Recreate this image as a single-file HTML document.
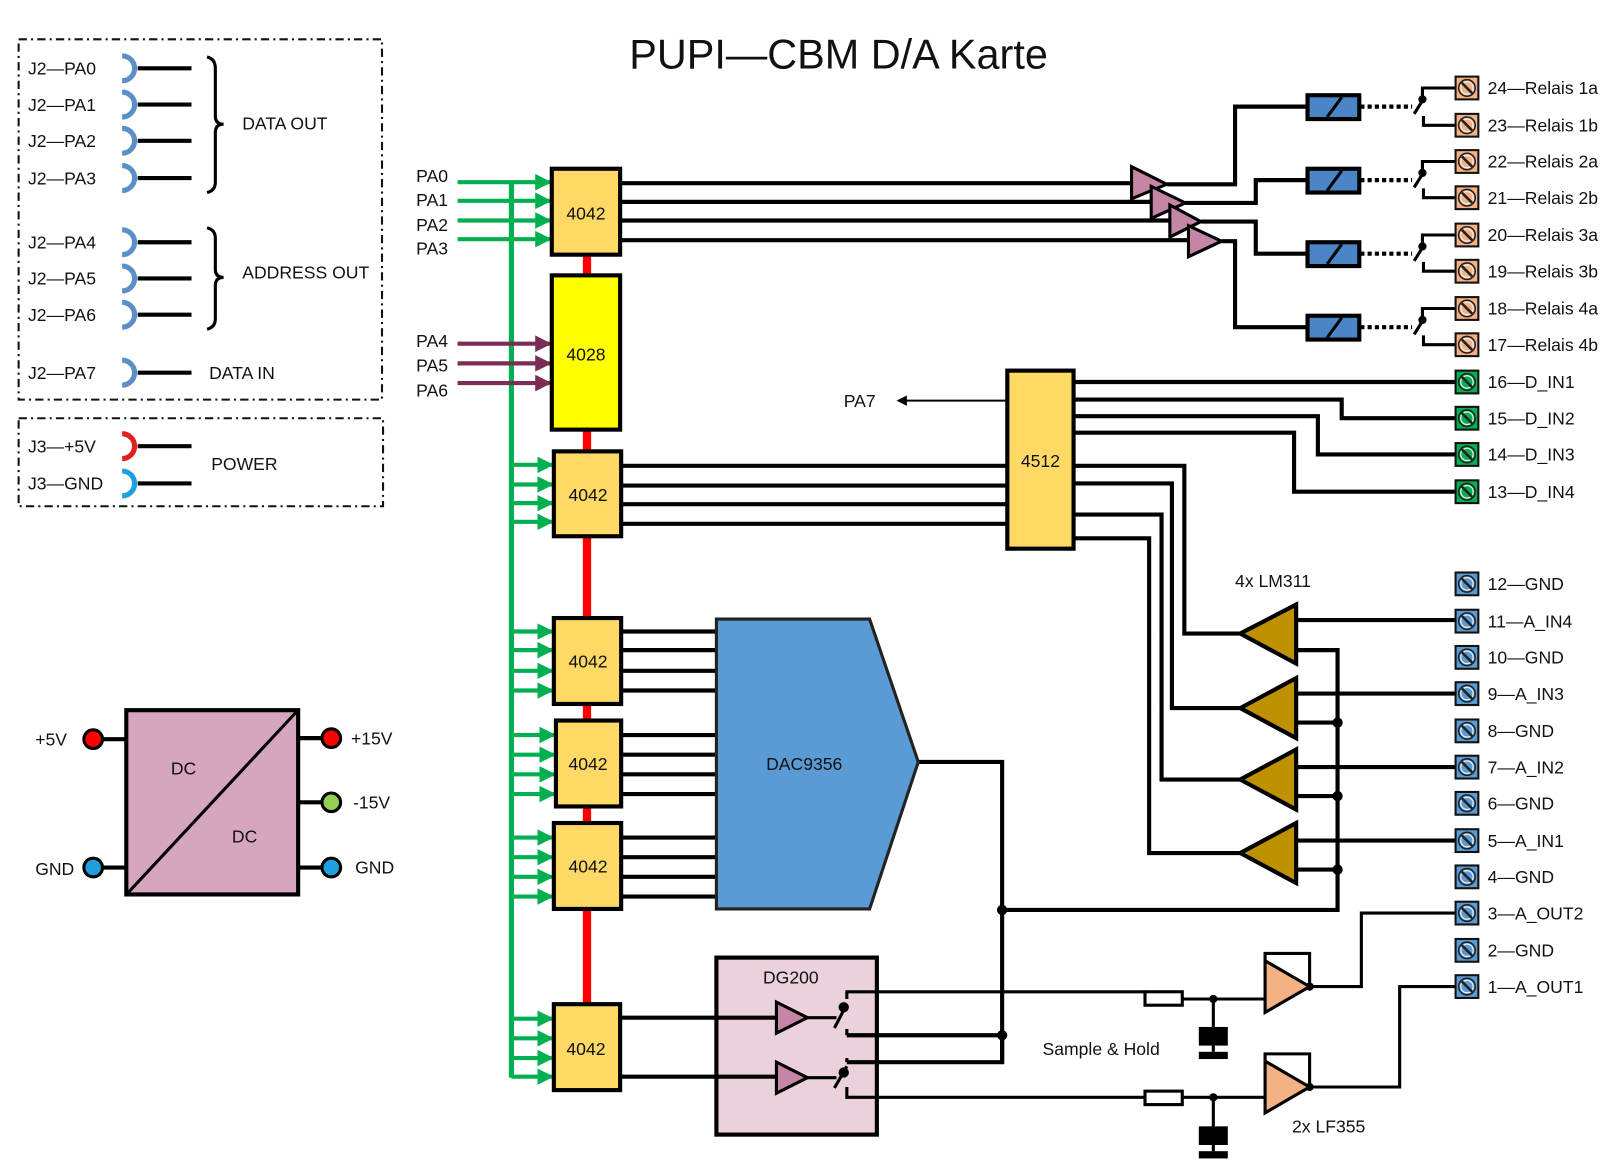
<!DOCTYPE html>
<html><head><meta charset="utf-8"><style>html,body{margin:0;padding:0;background:#fff}svg{display:block}text{font-family:"Liberation Sans",sans-serif;fill:#111}</style></head><body>
<svg width="1615" height="1175" viewBox="0 0 1560 1135" preserveAspectRatio="none" xmlns="http://www.w3.org/2000/svg">
<defs>
<marker id="ag" markerWidth="4" markerHeight="4" refX="3.5" refY="2" orient="auto" markerUnits="strokeWidth"><path d="M0,0L4,2L0,4z" fill="#00b050"/></marker>
<marker id="ap" markerWidth="4" markerHeight="4" refX="3.5" refY="2" orient="auto" markerUnits="strokeWidth"><path d="M0,0L4,2L0,4z" fill="#7b2d55"/></marker>
<marker id="ak" markerWidth="5" markerHeight="5" refX="4" refY="2.5" orient="auto" markerUnits="strokeWidth"><path d="M0,0L5,2.5L0,5z" fill="#000"/></marker>
<g id="term"><rect x="-11" y="-11" width="22" height="22" stroke="#111" stroke-width="2"/><circle r="8" fill="none" stroke="#222" stroke-width="1.5"/><circle r="6" fill="none" stroke="#eee" stroke-width="1.2"/><line x1="-5" y1="-5" x2="5" y2="5" stroke="#222" stroke-width="2.5"/></g>
</defs>
<text x="810" y="66" font-size="40" text-anchor="middle">PUPI—CBM D/A Karte</text>

<!-- left panels -->
<g fill="none" stroke="#111" stroke-width="2" stroke-dasharray="8,4,2,4">
<rect x="18" y="38" width="351" height="348"/><rect x="18" y="404" width="352" height="85"/></g>
<g font-size="17">
<text x="27" y="72">J2—PA0</text><text x="27" y="107">J2—PA1</text><text x="27" y="142">J2—PA2</text><text x="27" y="178">J2—PA3</text>
<text x="27" y="240">J2—PA4</text><text x="27" y="275">J2—PA5</text><text x="27" y="310">J2—PA6</text><text x="27" y="366">J2—PA7</text>
<text x="27" y="437">J3—+5V</text><text x="27" y="473">J3—GND</text>
<text x="234" y="125">DATA OUT</text><text x="234" y="269">ADDRESS OUT</text><text x="202" y="366">DATA IN</text><text x="204" y="454">POWER</text>
</g>
<g fill="none" stroke-width="5">
<g stroke="#5b8fc9"><path d="M118,54A12,12 0 0 1 118,78"/><path d="M118,89A12,12 0 0 1 118,113"/><path d="M118,124A12,12 0 0 1 118,148"/><path d="M118,160A12,12 0 0 1 118,184"/><path d="M118,222A12,12 0 0 1 118,246"/><path d="M118,257A12,12 0 0 1 118,281"/><path d="M118,292A12,12 0 0 1 118,316"/><path d="M118,348A12,12 0 0 1 118,372"/></g>
<path d="M118,419A12,12 0 0 1 118,443" stroke="#e02020"/><path d="M118,455A12,12 0 0 1 118,479" stroke="#1ea0e0"/>
<g stroke="#000" stroke-width="4"><path d="M133,66H185M133,101H185M133,136H185M133,172H185M133,234H185M133,269H185M133,304H185M133,360H185M133,431H185M133,467H185"/></g>
<path d="M200,55Q208,57 208,66V112Q208,120 216,120Q208,120 208,128V176Q208,184 200,186M200,220Q208,222 208,230V260Q208,268 216,268Q208,268 208,276V308Q208,316 200,318" stroke="#000" stroke-width="3"/>
</g>

<!-- DC/DC -->
<rect x="122" y="686" width="166" height="178" fill="#d5a6bd" stroke="#000" stroke-width="4"/>
<line x1="124" y1="862" x2="286" y2="688" stroke="#000" stroke-width="3"/>
<g stroke="#000" stroke-width="4"><path d="M100,714H122M100,838H122M288,713H310M288,775H310M288,838H310"/></g>
<g stroke="#000" stroke-width="3"><circle cx="90" cy="714" r="9" fill="#ff0000"/><circle cx="90" cy="838" r="9" fill="#1ea0e0"/><circle cx="320" cy="713" r="9" fill="#ff0000"/><circle cx="320" cy="775" r="9" fill="#92d050"/><circle cx="320" cy="838" r="9" fill="#1ea0e0"/></g>
<g font-size="17"><text x="165" y="748">DC</text><text x="224" y="814">DC</text><text x="34" y="720">+5V</text><text x="34" y="845">GND</text><text x="339" y="719">+15V</text><text x="341" y="781">-15V</text><text x="343" y="844">GND</text></g>

<!-- red link -->
<line x1="567" y1="246" x2="567" y2="972" stroke="#ff0000" stroke-width="8"/>
<!-- green bus -->
<line x1="494" y1="176" x2="494" y2="1041" stroke="#00b050" stroke-width="5"/>
<g stroke="#00b050" stroke-width="4" marker-end="url(#ag)">
<line x1="442" y1="176" x2="531" y2="176"/><line x1="442" y1="194" x2="531" y2="194"/><line x1="442" y1="213" x2="531" y2="213"/><line x1="442" y1="231" x2="531" y2="231"/>
<line x1="494" y1="449" x2="533" y2="449"/><line x1="494" y1="468" x2="533" y2="468"/><line x1="494" y1="486" x2="533" y2="486"/><line x1="494" y1="504" x2="533" y2="504"/>
<line x1="494" y1="610" x2="533" y2="610"/><line x1="494" y1="628" x2="533" y2="628"/><line x1="494" y1="648" x2="533" y2="648"/><line x1="494" y1="667" x2="533" y2="667"/>
<line x1="494" y1="710" x2="535" y2="710"/><line x1="494" y1="729" x2="535" y2="729"/><line x1="494" y1="748" x2="535" y2="748"/><line x1="494" y1="767" x2="535" y2="767"/>
<line x1="494" y1="809" x2="533" y2="809"/><line x1="494" y1="828" x2="533" y2="828"/><line x1="494" y1="847" x2="533" y2="847"/><line x1="494" y1="866" x2="533" y2="866"/>
<line x1="494" y1="984" x2="533" y2="984"/><line x1="494" y1="1003" x2="533" y2="1003"/><line x1="494" y1="1022" x2="533" y2="1022"/><line x1="494" y1="1040" x2="533" y2="1040"/>
</g>
<g stroke="#7b2d55" stroke-width="4" marker-end="url(#ap)"><line x1="442" y1="332" x2="531" y2="332"/><line x1="442" y1="351" x2="531" y2="351"/><line x1="442" y1="370" x2="531" y2="370"/></g>
<g font-size="17"><text x="402" y="176">PA0</text><text x="402" y="199">PA1</text><text x="402" y="223">PA2</text><text x="402" y="246">PA3</text><text x="402" y="335">PA4</text><text x="402" y="359">PA5</text><text x="402" y="383">PA6</text></g>

<!-- wires -->
<g stroke="#000" stroke-width="4" fill="none">
<path d="M599,177H1100M599,195H1118M599,213H1136M599,232H1154"/>
<path d="M1127,178H1193V103H1263M1145,196H1213V174H1263M1160,214H1213V245H1263M1180,233H1193V316H1263"/>
<path d="M600,450H973M600,469H973M600,487H973M600,506H973"/>
<path d="M1037,369H1406M1037,386H1296V404H1406M1037,402H1273V439H1406M1037,418H1250V475H1406"/>
<path d="M1037,450H1144V612H1200M1037,467H1132V684H1200M1037,497H1122V753H1200M1037,520H1110V824H1200"/>
<path d="M600,610H692M600,628H692M600,648H692M600,667H692M600,710H692M600,729H692M600,748H692M600,767H692M600,809H692M600,828H692M600,847H692M600,866H692"/>
<path d="M887,736H968V1026M968,879H1292V628H1252M1252,698H1292M1252,769H1292M1252,840H1292"/>
<path d="M1252,599H1406M1252,670H1406M1252,741H1406M1252,812H1406"/>
</g>
<g stroke="#000" stroke-width="3" fill="none">
<path d="M1142,965H1222M1142,1060H1222M1172,965V992M1172,1060V1088"/>
<path d="M1222,940V921H1265V953M1222,1038V1018H1265V1050"/>
<path d="M1265,953H1315V882H1406M1265,1050H1352V953H1406"/>
</g>
<line x1="972" y1="387" x2="868" y2="387" stroke="#000" stroke-width="2" marker-end="url(#ak)"/>
<text x="815" y="393" font-size="17">PA7</text>

<!-- chips -->
<g stroke="#000" stroke-width="4" fill="#ffd966">
<rect x="533" y="163" width="66" height="83"/>
<rect x="533" y="266" width="66" height="149" fill="#ffff00"/>
<rect x="535" y="436" width="65" height="82"/>
<rect x="535" y="597" width="65" height="83"/>
<rect x="537" y="696" width="63" height="83"/>
<rect x="535" y="795" width="65" height="83"/>
<rect x="535" y="970" width="64" height="83"/>
<rect x="973" y="358" width="64" height="172"/>
</g>
<g font-size="17" text-anchor="middle"><text x="566" y="212">4042</text><text x="566" y="348">4028</text><text x="568" y="484">4042</text><text x="568" y="645">4042</text><text x="568" y="744">4042</text><text x="568" y="843">4042</text><text x="566" y="1019">4042</text><text x="1005" y="451">4512</text></g>

<!-- buffers -->
<g fill="#c586a5" stroke="#000" stroke-width="3">
<path d="M1093,161L1127,178L1093,192Z"/><path d="M1112,180L1145,196L1112,211Z"/><path d="M1130,198L1160,214L1130,229Z"/><path d="M1148,218L1180,233L1148,248Z"/>
</g>
<!-- relay coils -->
<g stroke="#000" stroke-width="4" fill="#4a86c5">
<rect x="1263" y="92" width="50" height="23"/><rect x="1263" y="163" width="50" height="23"/><rect x="1263" y="234" width="50" height="23"/><rect x="1263" y="305" width="50" height="23"/></g>
<g stroke="#000" stroke-width="3"><path d="M1282,113L1296,94M1282,184L1296,165M1282,255L1296,236M1282,326L1296,307"/></g>
<g stroke="#000" stroke-width="4" stroke-dasharray="4,3"><path d="M1314,103H1364M1314,174H1364M1314,245H1364M1314,316H1364"/></g>
<g stroke="#000" stroke-width="3" fill="none">
<path d="M1406,85H1374V95M1406,121H1375V112M1366,110L1376,94"/>
<path d="M1406,156H1374V166M1406,191H1375V182M1366,181L1376,165"/>
<path d="M1406,227H1374V237M1406,262H1375V253M1366,252L1376,236"/>
<path d="M1406,298H1374V308M1406,333H1375V324M1366,323L1376,307"/>
</g>
<g fill="#000"><circle cx="1374" cy="96" r="4"/><circle cx="1374" cy="167" r="4"/><circle cx="1374" cy="238" r="4"/><circle cx="1374" cy="309" r="4"/></g>
<g fill="#f4b183"><use href="#term" x="1417" y="85"/><use href="#term" x="1417" y="121"/><use href="#term" x="1417" y="156"/><use href="#term" x="1417" y="191"/><use href="#term" x="1417" y="227"/><use href="#term" x="1417" y="262"/><use href="#term" x="1417" y="298"/><use href="#term" x="1417" y="333"/></g>
<g fill="#00b050"><use href="#term" x="1417" y="369"/><use href="#term" x="1417" y="404"/><use href="#term" x="1417" y="439"/><use href="#term" x="1417" y="475"/></g>
<g fill="#5b9bd5"><use href="#term" x="1417" y="564"/><use href="#term" x="1417" y="600"/><use href="#term" x="1417" y="635"/><use href="#term" x="1417" y="670"/><use href="#term" x="1417" y="706"/><use href="#term" x="1417" y="741"/><use href="#term" x="1417" y="776"/><use href="#term" x="1417" y="812"/><use href="#term" x="1417" y="847"/><use href="#term" x="1417" y="882"/><use href="#term" x="1417" y="918"/><use href="#term" x="1417" y="953"/></g>
<g font-size="17">
<text x="1437" y="91">24—Relais 1a</text><text x="1437" y="127">23—Relais 1b</text><text x="1437" y="162">22—Relais 2a</text><text x="1437" y="197">21—Relais 2b</text><text x="1437" y="233">20—Relais 3a</text><text x="1437" y="268">19—Relais 3b</text><text x="1437" y="304">18—Relais 4a</text><text x="1437" y="339">17—Relais 4b</text>
<text x="1437" y="375">16—D_IN1</text><text x="1437" y="410">15—D_IN2</text><text x="1437" y="445">14—D_IN3</text><text x="1437" y="481">13—D_IN4</text>
<text x="1437" y="570">12—GND</text><text x="1437" y="606">11—A_IN4</text><text x="1437" y="641">10—GND</text><text x="1437" y="676">9—A_IN3</text><text x="1437" y="712">8—GND</text><text x="1437" y="747">7—A_IN2</text><text x="1437" y="782">6—GND</text><text x="1437" y="818">5—A_IN1</text><text x="1437" y="853">4—GND</text><text x="1437" y="888">3—A_OUT2</text><text x="1437" y="924">2—GND</text><text x="1437" y="959">1—A_OUT1</text>
<text x="1193" y="567">4x LM311</text><text x="1007" y="1019">Sample &amp; Hold</text><text x="1248" y="1094">2x LF355</text>
</g>

<!-- comparators -->
<g fill="#bf9000" stroke="#000" stroke-width="4">
<path d="M1252,584V641L1198,612Z"/><path d="M1252,655V713L1198,684Z"/><path d="M1252,724V782L1198,753Z"/><path d="M1252,795V853L1198,824Z"/>
</g>

<!-- DAC -->
<path d="M692,598H840L887,736L840,878H692Z" fill="#5b9bd5" stroke="#222" stroke-width="3"/>
<text x="740" y="744" font-size="17">DAC9356</text>

<!-- DG200 -->
<rect x="692" y="925" width="155" height="171" fill="#ead1dc" stroke="#000" stroke-width="4"/>
<text x="737" y="950" font-size="17">DG200</text>
<g stroke="#000" stroke-width="4" fill="none">
<path d="M599,983H750M599,1040H750"/>
<path d="M818,1000H968M818,1026H968V1000"/>
</g>
<g stroke="#000" stroke-width="3" fill="none">
<path d="M780,983H808M780,1041H808M806,993L818,970M806,1051L818,1030"/>
<path d="M818,965V958H1106M818,1000V994M818,1050V1060H1106M818,1026V1022"/>
</g>
<g fill="#c586a5" stroke="#000" stroke-width="3"><path d="M750,968L780,983L750,998Z"/><path d="M750,1026L780,1041L750,1056Z"/></g>
<g fill="#000"><circle cx="815" cy="973" r="5"/><circle cx="815" cy="1036" r="5"/><circle cx="1172" cy="965" r="4"/><circle cx="1172" cy="1060" r="4"/><circle cx="1265" cy="953" r="4"/><circle cx="1265" cy="1050" r="4"/><circle cx="1292" cy="698" r="5"/><circle cx="1292" cy="769" r="5"/><circle cx="1292" cy="840" r="5"/><circle cx="968" cy="879" r="5"/><circle cx="968" cy="1000" r="5"/></g>
<!-- S&H -->
<g fill="#fff" stroke="#000" stroke-width="3"><rect x="1106" y="958" width="36" height="13"/><rect x="1106" y="1054" width="36" height="13"/></g>
<g fill="#000"><rect x="1158" y="992" width="28" height="18"/><rect x="1158" y="1016" width="28" height="7"/><rect x="1158" y="1088" width="28" height="18"/><rect x="1158" y="1112" width="28" height="7"/></g>
<path d="M1172,1010V1016M1172,1106V1112" stroke="#000" stroke-width="3"/>
<g fill="#f4b183" stroke="#000" stroke-width="3"><path d="M1222,928V978L1265,953Z"/><path d="M1222,1025V1075L1265,1050Z"/></g>
</svg>
</body></html>
